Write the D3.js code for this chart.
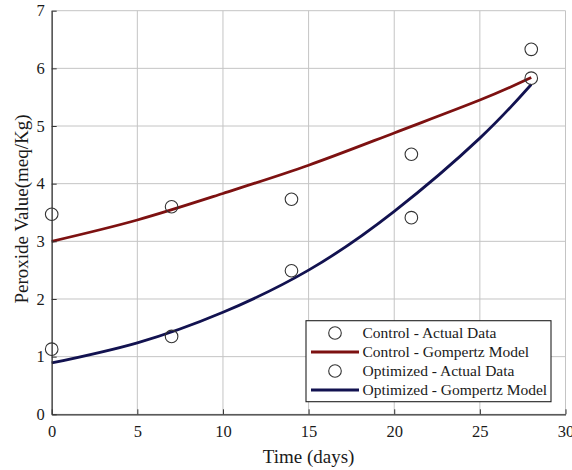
<!DOCTYPE html>
<html><head><meta charset="utf-8">
<script src="https://cdn.jsdelivr.net/npm/d3@7"></script>
<style>
body{margin:0;background:#fff}
svg{display:block}
svg text{font-family:'Liberation Serif','DejaVu Serif',serif !important;fill:#1a1a1a}
</style>
</head><body><svg id="c" width="572" height="470"></svg>
<script>
const days = [0, 7, 14, 21, 28];
const controlActual = [3.47, 3.60, 3.73, 4.51, 6.33];
const optimizedActual = [1.13, 1.35, 2.49, 3.41, 5.83];
const modelDays = [0, 5, 10, 15, 20, 25, 28];
const controlModel = [3.00, 3.37, 3.83, 4.32, 4.88, 5.45, 5.84];
const optimizedModel = [0.89, 1.24, 1.77, 2.50, 3.52, 4.79, 5.72];
const xTicks = [0, 5, 10, 15, 20, 25, 30];
const yTicks = [0, 1, 2, 3, 4, 5, 6, 7];
const legendLabels = ["Control - Actual Data", "Control - Gompertz Model", "Optimized - Actual Data", "Optimized - Gompertz Model"];
const legendTypes = ["circle", "line", "circle", "line"];

const redC = "#7d1111", blueC = "#121250";
const svg = d3.select("#c");
const m = {l: 51.7, t: 10.7, r: 565.5, b: 414.3};
const x = d3.scaleLinear().domain([0, 30]).range([m.l, m.r]);
const y = d3.scaleLinear().domain([0, 7]).range([m.b, m.t]);

// grid
const grid = svg.append("g").attr("stroke", "#c4c4c4").attr("stroke-width", 1);
grid.selectAll(".gx").data(xTicks).join("line")
  .attr("x1", d => x(d)).attr("x2", d => x(d)).attr("y1", m.t).attr("y2", m.b);
grid.selectAll(".gy").data(yTicks).join("line")
  .attr("y1", d => y(d)).attr("y2", d => y(d)).attr("x1", m.l).attr("x2", m.r);

// model lines
const line = d3.line().x(d => x(d[0])).y(d => y(d[1])).curve(d3.curveNatural);
svg.append("path").datum(d3.zip(modelDays, controlModel)).attr("d", line)
  .attr("fill", "none").attr("stroke", redC).attr("stroke-width", 2.8);
svg.append("path").datum(d3.zip(modelDays, optimizedModel)).attr("d", line)
  .attr("fill", "none").attr("stroke", blueC).attr("stroke-width", 2.8);

// points
[controlActual, optimizedActual].forEach(vals => {
  svg.append("g").selectAll("circle").data(d3.zip(days, vals)).join("circle")
    .attr("cx", d => x(d[0])).attr("cy", d => y(d[1])).attr("r", 6.3)
    .attr("fill", "none").attr("stroke", "#333").attr("stroke-width", 1.1);
});

// axes
const fmt = d3.format("d");
const ax = svg.append("g").attr("transform", `translate(0,${m.b})`)
  .call(d3.axisBottom(x).tickValues(xTicks).tickFormat(fmt).tickSizeInner(-5).tickSizeOuter(0).tickPadding(11));
const ay = svg.append("g").attr("transform", `translate(${m.l},0)`)
  .call(d3.axisLeft(y).tickValues(yTicks).tickFormat(fmt).tickSizeInner(-5).tickSizeOuter(0).tickPadding(7));
[ax, ay].forEach(g => {
  g.attr("font-family", null).attr("font-size", null);
  g.select(".domain").attr("stroke", "#333").attr("stroke-width", 1.2);
  g.selectAll(".tick line").attr("stroke", "#333");
  g.selectAll(".tick text").style("font-size", "16.5px").attr("fill", "#1a1a1a");
});

// axis labels
svg.append("text").attr("x", (m.l + m.r) / 2).attr("y", 463).attr("text-anchor", "middle")
  .style("font-size", "19px").text("Time (days)");
svg.append("text").attr("transform", "translate(28,209) rotate(-90)").attr("text-anchor", "middle")
  .style("font-size", "19px").text("Peroxide Value(meq/Kg)");

// legend
const lg = svg.append("g");
lg.append("rect").attr("x", 306).attr("y", 320.7).attr("width", 245).attr("height", 81)
  .attr("fill", "#fff").attr("stroke", "#222").attr("stroke-width", 1.1);
const rows = lg.selectAll(".row").data(legendLabels).join("g")
  .attr("transform", (d, i) => `translate(0,${333 + i * 19})`);
rows.append("text").attr("x", 362.5).attr("y", 0).attr("dy", "0.35em")
  .style("font-size", "15.5px").text(d => d);
rows.each(function(d, i) {
  const g = d3.select(this);
  if (legendTypes[i] === "circle") {
    g.append("circle").attr("cx", 335).attr("cy", 0).attr("r", 6.3)
      .attr("fill", "none").attr("stroke", "#333").attr("stroke-width", 1.1);
  } else {
    g.append("line").attr("x1", 311).attr("x2", 359).attr("y1", 0).attr("y2", 0)
      .attr("stroke", i === 1 ? redC : blueC).attr("stroke-width", 2.8);
  }
});
</script>
</body></html>
